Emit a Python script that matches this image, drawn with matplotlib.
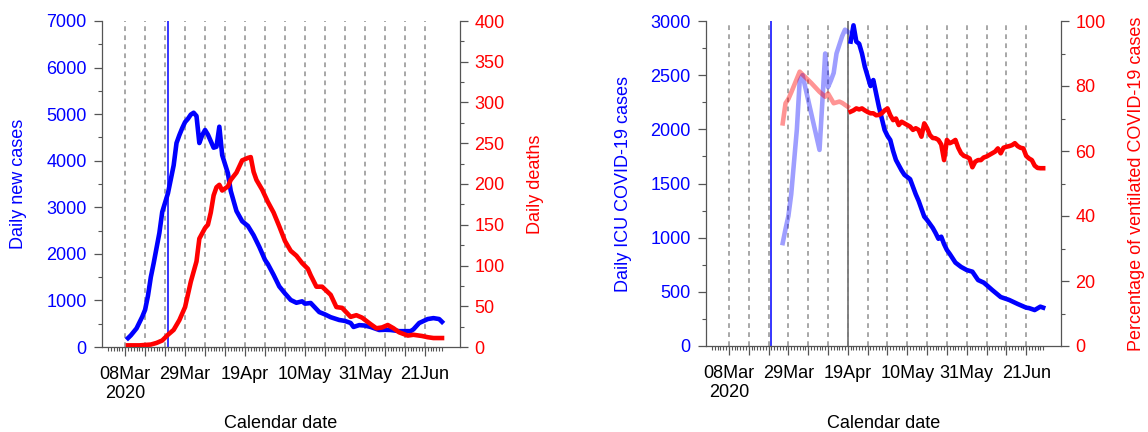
import numpy as np
import matplotlib
matplotlib.use("Agg")
import matplotlib.pyplot as plt
import matplotlib.dates as mdates
from matplotlib.ticker import MultipleLocator, FixedLocator

plt.rcParams['font.family'] = ['Liberation Sans', 'DejaVu Sans']
plt.rcParams['lines.scale_dashes'] = False

# ---------------- data (day = days after 08 Mar 2020) ----------------
START = '2020-03-08'

case_day = [1, 2, 4, 6, 7, 8, 9, 10, 12, 13, 15, 17, 18, 19, 20, 21, 22, 23, 24, 25,
            26, 27, 28, 29, 30, 31, 32, 33, 34, 36, 37, 39, 41, 43, 45, 47, 49, 50, 52,
            54, 56, 58, 60, 62, 63, 65, 66, 68, 70, 72, 75, 77, 79, 80, 82, 84, 86, 89,
            91, 93, 96, 98, 100, 101, 103, 106, 108, 109, 110, 111]
case_val = [190, 250, 400, 650, 800, 1100, 1500, 1800, 2450, 2900, 3300, 3900, 4380, 4550,
            4700, 4830, 4900, 4990, 5030, 4960, 4380, 4550, 4660, 4560, 4420, 4280, 4300,
            4730, 4120, 3730, 3350, 2920, 2700, 2600, 2400, 2150, 1870, 1780, 1550, 1300,
            1150, 1010, 950, 980, 930, 945, 880, 750, 700, 640, 580, 560, 515, 430, 470, 460,
            430, 365, 370, 365, 340, 340, 340, 380, 515, 600, 620, 610, 600, 540]

death_day = [1, 5, 9, 11, 13, 15, 17, 19, 21, 23, 25, 26, 28, 29, 30, 31, 32, 33, 34, 36,
             37, 39, 41, 43, 44, 45, 46, 48, 50, 52, 54, 56, 58, 60, 62, 64, 65, 67, 69, 72,
             74, 76, 79, 81, 83, 86, 88, 90, 92, 94, 96, 99, 101, 104, 106, 108, 111]
death_val = [2, 2, 3, 5, 8, 15, 21, 33, 49, 80, 105, 133, 146, 150, 165, 186, 196, 199, 192,
             197, 205, 214, 229, 232, 233, 215, 205, 193, 178, 165, 148, 130, 118, 112, 103,
             96, 88, 74, 74, 64, 49, 48, 37, 39, 36, 28, 23, 24, 27, 23, 18, 14, 15, 13.5, 12,
             11, 11]

icu_early_day = [19, 20, 21, 22, 24, 25, 26, 32, 34, 35, 36, 37, 38, 40, 41, 42]
icu_early_val = [950, 1080, 1200, 1400, 2000, 2450, 2500, 1810, 2700, 2390, 2450, 2520,
                 2700, 2860, 2920, 2900]

icu_day = [43, 44, 45, 46, 47, 48, 49, 50, 51, 52, 53, 54, 55, 56, 57, 58, 59, 61, 62, 64,
           66, 67, 69, 70, 72, 73, 74, 75, 76, 77, 78, 80, 82, 84, 86, 88, 90, 91, 93, 96,
           99, 102, 105, 106, 108, 110, 111]
icu_val = [2810, 2960, 2810, 2790, 2700, 2578, 2490, 2400, 2455, 2330, 2206, 2100, 1994,
           1940, 1901, 1800, 1717, 1620, 1580, 1540, 1400, 1340, 1194, 1163, 1090, 1043,
           990, 1009, 940, 886, 850, 770, 730, 701, 686, 609, 585, 563, 517, 452, 425, 388,
           354, 350, 332, 363, 354]

vent_early_day = [19, 20, 21, 22, 25, 29, 32, 34, 35, 37, 39, 40, 42]
vent_early_val = [68.5, 74.7, 76, 78, 84.4, 81, 78.2, 76.7, 77.7, 74.7, 75.2, 74.8, 73.6]

vent_day = list(range(43, 112))
vent_val = [72.1, 72.5, 73.1, 72.8, 73.1, 72.5, 72.0, 71.6, 71.6, 71.0, 71.1, 71.6, 72.5,
            73.1, 71.0, 69.5, 70.0, 68.0, 69.0, 68.5, 68.0, 67.5, 66.5, 67.0, 66.5, 64.4,
            68.5, 67.0, 64.9, 64.0, 63.9, 63.4, 62.0, 57.2, 63.4, 62.4, 62.8, 63.4, 61.0,
            59.3, 58.5, 58.2, 57.7, 55.0, 56.7, 57.2, 57.2, 58.0, 58.3, 58.8, 59.3, 59.8,
            60.8, 59.3, 61.0, 61.3, 61.5, 61.8, 62.4, 61.5, 61.0, 60.8, 58.5, 57.7, 57.2,
            55.5, 54.8, 54.7, 54.7]

tick_labels = ["08Mar\n2020", "29Mar", "19Apr", "10May", "31May", "21Jun"]
lockdown_day = 15   # 23 Mar 2020
cutoff_day = 42     # 19 Apr 2020

# ---------------- helpers ----------------
base = mdates.date2num(np.datetime64(START))


def X(days):
    return base + np.asarray(days, dtype=float)


BLUE = '#0000ff'
RED = '#ff0000'
AX_COL = '#555555'
GRID_COL = '#8f8f8f'
FS = 13
LW = 3.3

fig = plt.figure(figsize=(11.48, 4.32), dpi=100)
W, H = 1148, 432


def make_axes(l, r, t, b):
    return fig.add_axes([l / W, 1 - b / H, (r - l) / W, (b - t) / H])


def style_x(ax, t, b):
    major = X(np.arange(0, 106, 7))
    ax.xaxis.set_major_locator(FixedLocator(major))
    labs = []
    k = 0
    for i in range(len(major)):
        if i % 3 == 0:
            labs.append(tick_labels[k]); k += 1
        else:
            labs.append("")
    ax.set_xticklabels(labs, linespacing=1.2)
    ax.xaxis.set_minor_locator(FixedLocator(X(np.arange(-6, 112))))
    ax.set_xlim(X(-8.1), X(117.3))
    ax.tick_params(axis='x', which='major', length=6.5, width=0.9, color=AX_COL,
                   labelsize=FS, pad=7, labelcolor='black')
    ax.tick_params(axis='x', which='minor', length=3, width=0.8, color=AX_COL)
    for d in np.arange(0, 106, 7):
        ax.axvline(X(d), color=GRID_COL, lw=1.1, linestyle=(0, (3.4, 3.1)), zorder=0)
    ax.set_xlabel("Calendar date", fontsize=FS, va='center')
    ax.xaxis.set_label_coords(0.5, (b - 423) / (b - t))


def style_spines(ax, ax2):
    for a in (ax, ax2):
        a.spines['top'].set_visible(False)
        for s in ('left', 'right', 'bottom'):
            a.spines[s].set_color(AX_COL)
            a.spines[s].set_linewidth(0.9)
    ax.spines['right'].set_visible(False)
    ax2.spines['left'].set_visible(False)
    ax2.spines['bottom'].set_visible(False)


# ---------------- left panel ----------------
ax1 = make_axes(102, 460, 21, 347)
ax1b = ax1.twinx()
style_spines(ax1, ax1b)
style_x(ax1, 21, 347)
ax1.axvline(X(lockdown_day), color=BLUE, lw=1.1, zorder=1)
ax1.plot(X(case_day), case_val, color=BLUE, lw=LW, zorder=3, solid_joinstyle='round')
ax1b.plot(X(death_day), death_val, color=RED, lw=LW, zorder=3, solid_joinstyle='round')
ax1.set_ylim(0, 7000)
ax1.yaxis.set_major_locator(MultipleLocator(1000))
ax1.yaxis.set_minor_locator(MultipleLocator(500))
ax1b.set_ylim(0, 400)
ax1b.yaxis.set_major_locator(MultipleLocator(50))
ax1b.yaxis.set_minor_locator(MultipleLocator(25))
ax1.set_ylabel("Daily new cases", color=BLUE, fontsize=FS, va='center')
ax1.yaxis.set_label_coords((19 - 102) / 358, 0.5)
ax1b.set_ylabel("Daily deaths", color=RED, fontsize=FS, va='center')
ax1b.yaxis.set_label_coords((536 - 102) / 358, 0.5)

# ---------------- right panel ----------------
ax2 = make_axes(706, 1061, 21, 346)
ax2b = ax2.twinx()
style_spines(ax2, ax2b)
style_x(ax2, 21, 346)
ax2.axvline(X(lockdown_day), color=BLUE, lw=1.1, zorder=1)
ax2.axvline(X(cutoff_day), color='#7a7a7a', lw=1.3, zorder=1)
ax2.plot(X(icu_early_day), icu_early_val, color=BLUE, alpha=0.38, lw=LW, zorder=3)
ax2.plot(X(icu_day), icu_val, color=BLUE, lw=LW, zorder=3, solid_joinstyle='round')
ax2b.plot(X(vent_early_day), vent_early_val, color=RED, alpha=0.42, lw=LW, zorder=3)
ax2b.plot(X(vent_day), vent_val, color=RED, lw=LW, zorder=3, solid_joinstyle='round')
ax2.set_ylim(0, 3000)
ax2.yaxis.set_major_locator(MultipleLocator(500))
ax2.yaxis.set_minor_locator(MultipleLocator(250))
ax2b.set_ylim(0, 100)
ax2b.yaxis.set_major_locator(MultipleLocator(20))
ax2b.yaxis.set_minor_locator(MultipleLocator(10))
ax2.set_ylabel("Daily ICU COVID-19 cases", color=BLUE, fontsize=FS, va='center')
ax2.yaxis.set_label_coords((623 - 706) / 355, 0.5)
ax2b.set_ylabel("Percentage of ventilated COVID-19 cases", color=RED, fontsize=FS,
                va='center')
ax2b.yaxis.set_label_coords((1136 - 706) / 355, 0.5)

for a in (ax1, ax2):
    a.tick_params(axis='y', which='major', length=6, width=0.9, color=AX_COL,
                  labelsize=FS, labelcolor=BLUE, pad=5)
    a.tick_params(axis='y', which='minor', length=3.2, width=0.8, color=AX_COL)
for a in (ax1b, ax2b):
    a.tick_params(axis='y', which='major', length=6, width=0.9, color=AX_COL,
                  labelsize=FS, labelcolor=RED, pad=4.5)
    a.tick_params(axis='y', which='minor', length=3.2, width=0.8, color=AX_COL)

fig.savefig("out.png", dpi=100)
